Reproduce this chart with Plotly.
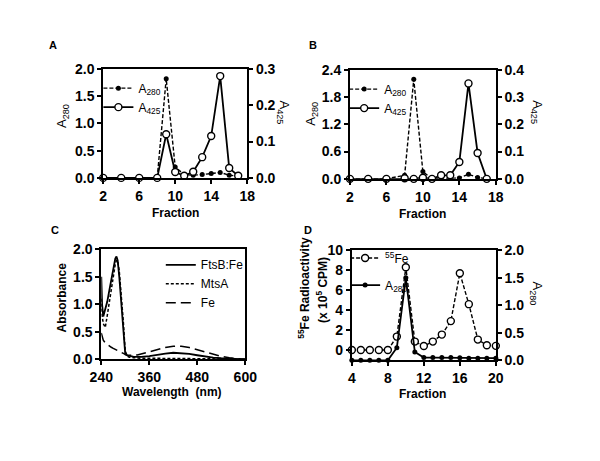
import plotly.graph_objects as go

# ---------------- data ----------------
frac_A = [2, 4, 6, 8, 9, 10, 11, 12, 13, 14, 15, 16, 17]
a280_A = [0, 0, 0, 0, 1.82, 0.2, 0.06, 0.05, 0.06, 0.08, 0.1, 0.05, 0.03]
a425_A = [0, 0, 0, 0, 0.12, 0.016, 0.006, 0.017, 0.057, 0.115, 0.28, 0.027, 0.006]

frac_B = [2, 4, 6, 8, 9, 10, 11, 12, 13, 14, 15, 16, 17]
a280_B = [0, 0, 0, 0.08, 2.19, 0.16, 0.0, 0.02, 0.01, 0.02, 0.1, 0.03, 0.0]
a425_B = [0, 0, 0, 0.002, 0, 0.004, 0, 0.013, 0.013, 0.062, 0.35, 0.095, 0]

wl_C = [240, 242, 245, 250, 255, 260, 265, 270, 275, 278, 281, 285, 290, 295, 298, 300,
        305, 310, 320, 330, 340, 360, 380, 400, 420, 440, 460, 480, 500, 520, 540, 560, 580, 600]
ftsb_C = [1.5, 1.0, 0.78, 0.9, 1.05, 1.25, 1.45, 1.65, 1.83, 1.87, 1.8, 1.5, 1.0, 0.45, 0.15, 0.09,
          0.07, 0.06, 0.05, 0.045, 0.045, 0.06, 0.085, 0.105, 0.12, 0.115, 0.1, 0.075, 0.05, 0.03, 0.02, 0.01, 0.005, 0.0]
mtsa_C = [1.1, 0.8, 0.65, 0.58, 0.8, 1.05, 1.3, 1.55, 1.73, 1.8, 1.79, 1.6, 1.2, 0.7, 0.35, 0.15,
          0.06, 0.04, 0.03, 0.02, 0.02, 0.02, 0.02, 0.02, 0.02, 0.02, 0.015, 0.01, 0.01, 0.01, 0.005, 0.005, 0.0, 0.0]
fe_C = [0.48, 0.42, 0.35, 0.3, 0.27, 0.24, 0.22, 0.2, 0.18, 0.17, 0.16, 0.15, 0.13, 0.11, 0.1, 0.09,
        0.08, 0.075, 0.07, 0.08, 0.1, 0.14, 0.18, 0.215, 0.24, 0.24, 0.215, 0.175, 0.13, 0.09, 0.055, 0.03, 0.015, 0.0]

frac_D = [4, 5, 6, 7, 8, 9, 10, 11, 12, 13, 14, 15, 16, 17, 18, 19, 20]
fe55_D = [0, 0, 0, 0, 0, 1.35, 8.3, 0.85, 0.4, 0.85, 1.55, 2.9, 7.7, 4.6, 1.05, 0.48, 0.42]
a280_D = [0, 0, 0, 0, 0, 0.23, 1.5, 0.15, 0.05, 0.05, 0.05, 0.05, 0.045, 0.04, 0.04, 0.04, 0.04]

# ---------------- helpers ----------------
W, H = 600, 461
def PX(x): return x / W
def PY(y): return 1 - y / H

FONT = "Liberation Sans, Arial, sans-serif"
tickf = dict(family=FONT, size=14, color="black", weight="bold")

fig = go.Figure()

dash_line = dict(color="black", width=1.4, dash="4px,2px")
solid_line = dict(color="black", width=1.8)
filled = dict(symbol="circle", size=5, color="black")
openm = dict(symbol="circle", size=7, color="white", line=dict(color="black", width=1.4))

# Panel A
fig.add_trace(go.Scatter(x=frac_A, y=a425_A, name="A<sub>425</sub>", mode="lines+markers",
                         line=solid_line, marker=openm, xaxis="x", yaxis="y2",
                         legend="legend", cliponaxis=False, legendrank=2))
fig.add_trace(go.Scatter(x=frac_A, y=a280_A, name="A<sub>280</sub>", mode="lines+markers",
                         line=dash_line, marker=filled, xaxis="x", yaxis="y",
                         legend="legend", cliponaxis=False, legendrank=1))
# Panel B
fig.add_trace(go.Scatter(x=frac_B, y=a425_B, name="A<sub>425</sub>", mode="lines+markers",
                         line=solid_line, marker=openm, xaxis="x2", yaxis="y4",
                         legend="legend2", cliponaxis=False, legendrank=2))
fig.add_trace(go.Scatter(x=frac_B, y=a280_B, name="A<sub>280</sub>", mode="lines+markers",
                         line=dash_line, marker=filled, xaxis="x2", yaxis="y3",
                         legend="legend2", cliponaxis=False, legendrank=1))
# Panel C
fig.add_trace(go.Scatter(x=wl_C, y=ftsb_C, name="FtsB:Fe", mode="lines",
                         line=dict(color="black", width=1.8), xaxis="x3", yaxis="y5", legend="legend3"))
fig.add_trace(go.Scatter(x=wl_C, y=mtsa_C, name="MtsA", mode="lines",
                         line=dict(color="black", width=1.5, dash="3px,2px"), xaxis="x3", yaxis="y5", legend="legend3"))
fig.add_trace(go.Scatter(x=wl_C, y=fe_C, name="Fe", mode="lines",
                         line=dict(color="black", width=1.5, dash="10px,5px"), xaxis="x3", yaxis="y5", legend="legend3"))
# Panel D
fig.add_trace(go.Scatter(x=frac_D, y=a280_D, name="A<sub>280</sub>", mode="lines+markers",
                         line=solid_line, marker=filled, xaxis="x4", yaxis="y7",
                         legend="legend4", legendgroup="d2", cliponaxis=False, legendrank=2))
fig.add_trace(go.Scatter(x=frac_D, y=fe55_D, name="<sup>55</sup>Fe", mode="lines+markers",
                         line=dash_line, marker=openm, xaxis="x4", yaxis="y6",
                         legend="legend4", legendgroup="d1", cliponaxis=False, legendrank=1))

def xax(domain, anchor, rng, dtick, tick0):
    return dict(domain=domain, anchor=anchor, range=rng, dtick=dtick, tick0=tick0,
                showline=True, linecolor="black", linewidth=1.8, mirror=True,
                ticks="outside", ticklen=4, tickwidth=1.5, tickcolor="black",
                showgrid=False, zeroline=False, tickfont=tickf)

def yax(domain, anchor, rng, dtick, fmt, side="left", overlaying=None, tick0=0):
    d = dict(domain=domain, anchor=anchor, range=rng, dtick=dtick, tick0=tick0, tickformat=fmt,
             showline=True, linecolor="black", linewidth=1.8, side=side,
             ticks="outside", ticklen=4, tickwidth=1.5, tickcolor="black",
             showgrid=False, zeroline=False, tickfont=tickf)
    if overlaying:
        d["overlaying"] = overlaying
    return d

dA_x = [PX(95), PX(245)];  dA_y = [PY(176), PY(63)]
dB_x = [PX(352), PX(504)]; dB_y = [PY(177), PY(64)]
dC_x = [PX(93), PX(243)];  dC_y = [PY(364), PY(250)]
dD_x = [PX(354), PX(504)]; dD_y = [PY(365), PY(251)]

yC = yax(dC_y, "x3", [0, 2], 0.5, ".1f")
yC["mirror"] = True

legbase = dict(font=dict(family=FONT, size=12, color="black"), bgcolor="rgba(0,0,0,0)",
               xanchor="left", yanchor="top", itemwidth=30, tracegroupgap=0,
               traceorder="normal")

fig.update_layout(
    width=W, height=H, margin=dict(l=0, r=0, t=0, b=0),
    paper_bgcolor="white", plot_bgcolor="white", showlegend=True,
    xaxis=xax(dA_x, "y", [2, 18], 4, 2),
    yaxis=yax(dA_y, "x", [0, 2], 0.5, ".1f"),
    yaxis2=yax(dA_y, "x", [0, 0.3], 0.1, ".1f", side="right", overlaying="y"),
    xaxis2=xax(dB_x, "y3", [2, 18], 4, 2),
    yaxis3=yax(dB_y, "x2", [0, 2.4], 0.6, ".1f"),
    yaxis4=yax(dB_y, "x2", [0, 0.4], 0.1, ".1f", side="right", overlaying="y3"),
    xaxis3=xax(dC_x, "y5", [240, 600], 120, 240),
    yaxis5=yC,
    xaxis4=xax(dD_x, "y6", [4, 20], 4, 4),
    yaxis6=yax(dD_y, "x4", [-1.03, 10], 2, "d"),
    yaxis7=yax(dD_y, "x4", [0, 2], 0.5, ".1f", side="right", overlaying="y6"),
    legend=dict(legbase, x=PX(90), y=PY(68)),
    legend2=dict(legbase, x=PX(346), y=PY(69)),
    legend3=dict(legbase, x=PX(155), y=PY(251)),
    legend4=dict(legbase, x=PX(347), y=PY(244), tracegroupgap=8, traceorder="grouped"),
)

def ann(text, x, y, size=12, bold=True, angle=0):
    fig.add_annotation(text=text, x=PX(x), y=PY(y), xref="paper", yref="paper",
                       showarrow=False, textangle=angle, xanchor="center", yanchor="middle",
                       font=dict(family=FONT, size=size, color="black",
                                 weight="bold" if bold else "normal"))

# panel letters
ann("A", 43, 38, 11)
ann("B", 314, 38, 11)
ann("C", 45, 230, 11)
ann("D", 308, 230, 11)
# x titles
ann("Fraction", 170, 212, 12)
ann("Fraction", 428, 213, 12)
ann("Wavelength  (nm)", 167, 398, 12)
ann("Fraction", 428, 400, 12)
# y titles
ann("A<sub>280</sub>", 52, 112, 13, bold=False, angle=-90)
ann("A<sub>425</sub>", 283, 108, 13, bold=False, angle=90)
ann("A<sub>280</sub>", 312, 110, 13, bold=False, angle=-90)
ann("A<sub>425</sub>", 547, 108, 13, bold=False, angle=90)
ann("Absorbance", 52, 300, 12, angle=-90)
ann("<sup>55</sup>Fe Radioactivity", 304, 290, 12, angle=-90)
ann("(x 10<sup>5</sup> CPM)", 323, 292, 12, angle=-90)
ann("A<sub>280</sub>", 546, 296, 13, bold=False, angle=90)

fig.write_html("out.html", config={"displayModeBar": False},
               post_script="document.body.style.margin='0px';")
